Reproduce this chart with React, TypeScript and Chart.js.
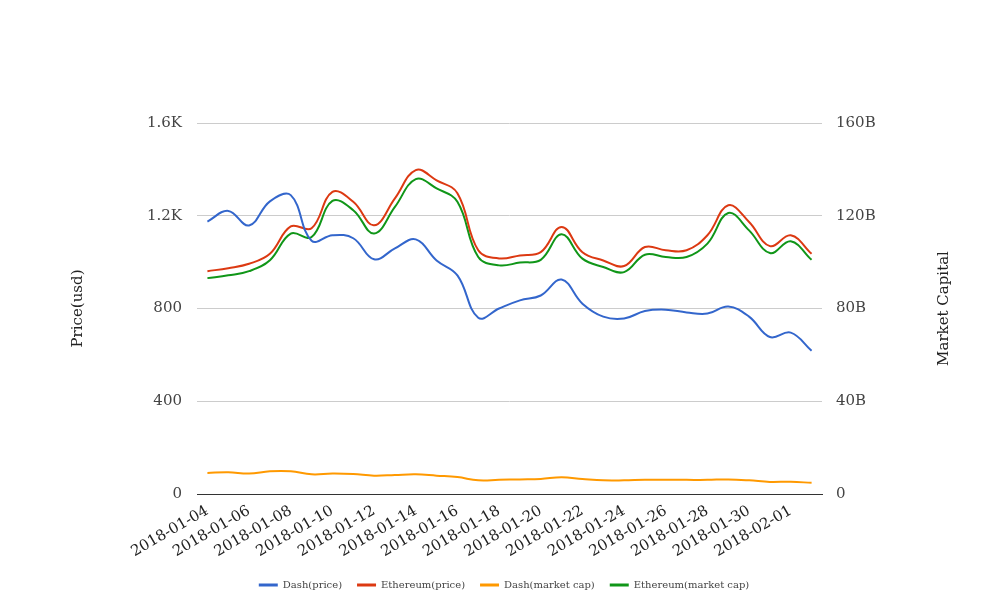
import React, { useEffect, useRef } from "react";
import { Chart, registerables } from "chart.js";

Chart.register(...registerables);

const dates = [
  "2018-01-04", "2018-01-05", "2018-01-06", "2018-01-07", "2018-01-08",
  "2018-01-09", "2018-01-10", "2018-01-11", "2018-01-12", "2018-01-13",
  "2018-01-14", "2018-01-15", "2018-01-16", "2018-01-17", "2018-01-18",
  "2018-01-19", "2018-01-20", "2018-01-21", "2018-01-22", "2018-01-23",
  "2018-01-24", "2018-01-25", "2018-01-26", "2018-01-27", "2018-01-28",
  "2018-01-29", "2018-01-30", "2018-01-31", "2018-02-01", "2018-02-02",
];

// USD
const dashPrice = [
  1175, 1221, 1158, 1262, 1289, 1092, 1116, 1103, 1012, 1059,
  1098, 1007, 943, 760, 800, 835, 856, 925, 821, 765,
  757, 789, 795, 783, 778, 809, 765, 677, 696, 618,
];
const ethereumPrice = [
  961, 974, 993, 1036, 1154, 1146, 1303, 1260, 1159, 1275,
  1397, 1353, 1297, 1051, 1016, 1029, 1043, 1152, 1043, 1007,
  983, 1065, 1051, 1051, 1116, 1245, 1173, 1069, 1116, 1036,
];
// billions USD
const dashMarketCap = [
  9.1, 9.4, 8.8, 9.8, 9.8, 8.5, 8.8, 8.6, 7.9, 8.2,
  8.5, 7.9, 7.3, 5.9, 6.1, 6.3, 6.5, 7.2, 6.5, 5.9,
  5.9, 6.1, 6.1, 6.1, 6.1, 6.3, 5.9, 5.2, 5.3, 4.8,
];
const ethereumMarketCap = [
  93.1, 94.3, 96.1, 100.8, 112.3, 110.8, 126.4, 122.4, 112.3, 123.8,
  135.8, 131.8, 126.0, 102.2, 98.6, 99.8, 101.0, 112.0, 101.5, 97.9,
  95.7, 103.2, 102.2, 102.2, 108.0, 121.2, 113.7, 103.9, 109.0, 101.0,
];

const leftTitle = "Price(usd)";
const rightTitle = "Market Capital";

const FONT = "'DejaVu Serif', serif";

const axisTitlePlugin = {
  id: "axisTitles",
  afterDraw(chart: any) {
    const { ctx, chartArea } = chart;
    const cy = (chartArea.top + chartArea.bottom) / 2;
    ctx.save();
    ctx.font = `15px ${FONT}`;
    ctx.fillStyle = "#222";
    ctx.textAlign = "center";
    ctx.textBaseline = "middle";
    const draw = (text: string, x: number) => {
      ctx.save();
      ctx.translate(x, cy);
      ctx.rotate(-Math.PI / 2);
      ctx.fillText(text, 0, 0);
      ctx.restore();
    };
    draw(leftTitle, chartArea.left - 119);
    draw(rightTitle, chartArea.right + 122);
    ctx.restore();
  },
};

export default function App() {
  const ref = useRef<HTMLCanvasElement>(null);

  useEffect(() => {
    if (!ref.current) return;
    const mk = (label: string, data: number[], color: string, axis: string) => ({
      label,
      data,
      borderColor: color,
      backgroundColor: color,
      borderWidth: 2,
      pointRadius: 0,
      tension: 0.4,
      yAxisID: axis,
      fill: false,
    });
    const chart = new Chart(ref.current, {
      type: "line",
      data: {
        labels: dates,
        datasets: [
          mk("Dash(price)", dashPrice, "#3366cc", "y"),
          mk("Ethereum(price)", ethereumPrice, "#dc3912", "y"),
          mk("Dash(market cap)", dashMarketCap, "#ff9900", "y1"),
          mk("Ethereum(market cap)", ethereumMarketCap, "#109618", "y1"),
        ],
      },
      options: {
        responsive: false,
        animation: false,
        layout: { padding: { top: 123, left: 0, right: 0, bottom: 16 } },
        plugins: {
          legend: {
            position: "bottom",
            labels: {
              font: { family: FONT, size: 10 },
              color: "#444",
              boxWidth: 19,
              boxHeight: 3,
              padding: 15,
              generateLabels: (chart: any) =>
                Chart.defaults.plugins.legend.labels
                  .generateLabels(chart)
                  .map((l: any) => ({ ...l, fillStyle: l.strokeStyle, lineWidth: 0 })),
            },
          },
          tooltip: { enabled: false },
        },
        scales: {
          x: {
            offset: true,
            grid: { display: false, drawTicks: false },
            border: { display: true, color: "#333", width: 1 },
            ticks: {
              autoSkip: false,
              minRotation: 30,
              maxRotation: 30,
              padding: 8,
              color: "#222",
              font: { family: FONT, size: 15 },
              callback: (_v: any, i: number) => (i % 2 === 0 ? dates[i] : ""),
            },
            afterFit: (s: any) => {
              s.height = 71;
            },
          },
          y: {
            position: "left",
            min: 0,
            max: 1600,
            grid: { color: "#cccccc", drawTicks: false },
            border: { display: false },
            ticks: {
              stepSize: 400,
              padding: 15,
              color: "#444",
              font: { family: FONT, size: 15 },
              callback: (v: any) => (v >= 1000 ? `${v / 1000}K` : `${v}`),
            },
            afterFit: (s: any) => {
              s.width = 197;
            },
          },
          y1: {
            position: "right",
            min: 0,
            max: 160,
            grid: { drawOnChartArea: false, drawTicks: false },
            border: { display: false },
            ticks: {
              stepSize: 40,
              padding: 14,
              color: "#444",
              font: { family: FONT, size: 15 },
              callback: (v: any) => (v === 0 ? "0" : `${v}B`),
            },
            afterFit: (s: any) => {
              s.width = 186;
            },
          },
        },
      },
      plugins: [axisTitlePlugin],
    });
    return () => chart.destroy();
  }, []);

  return (
    <div style={{ position: "fixed", left: 0, top: 0, width: 1008, height: 616, background: "#fff" }}>
      <canvas ref={ref} width={1008} height={616} />
    </div>
  );
}
